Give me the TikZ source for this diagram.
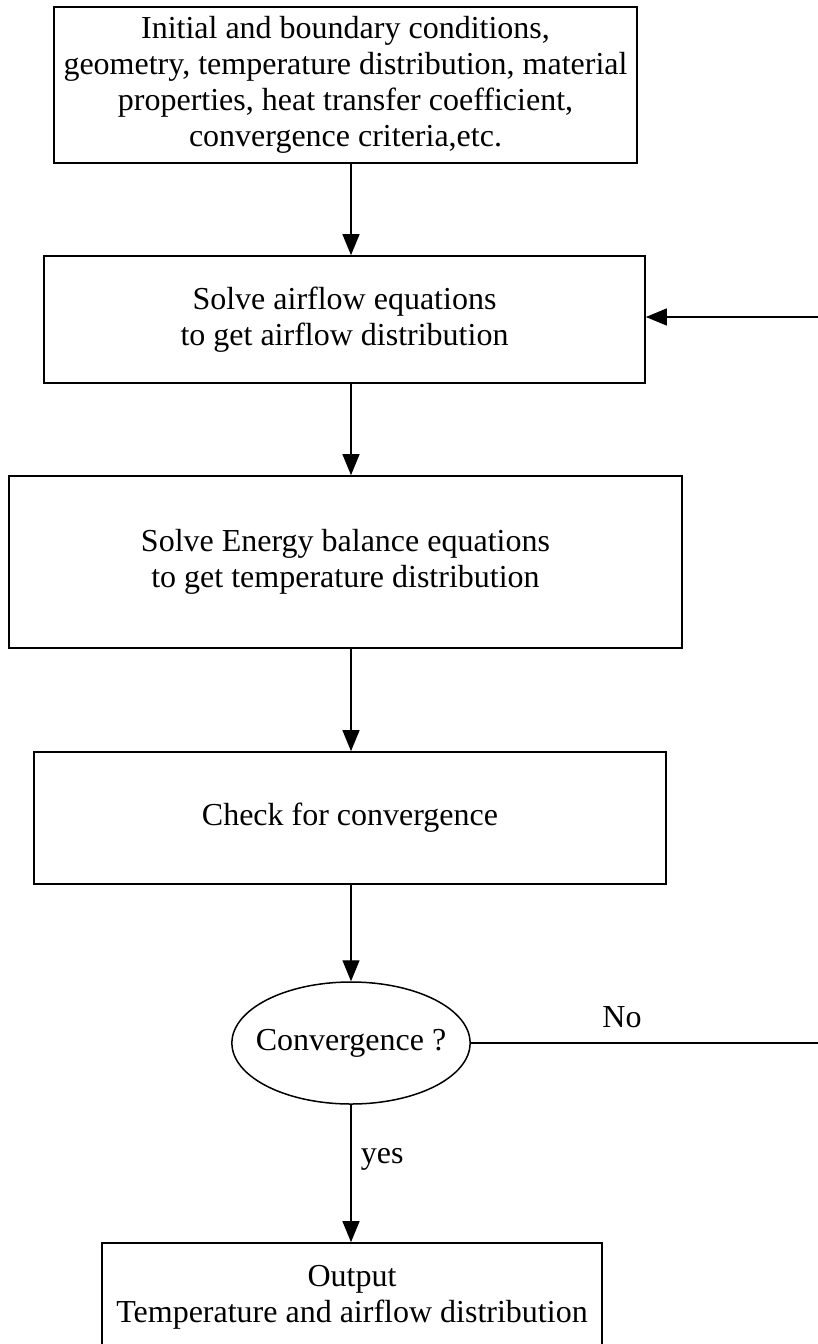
\documentclass[tikz,border=0pt]{standalone}
\usepackage{fontspec}
\setmainfont{Liberation Serif}
\usetikzlibrary{shapes.geometric,arrows.meta}
\begin{document}
\begin{tikzpicture}[x=1pt,y=-1pt,
  every node/.style={font=\fontsize{32}{36}\selectfont},
  stepbox/.style={draw,line width=1.7pt,rectangle,align=center,inner sep=0pt},
  decision/.style={draw,line width=1.5pt,ellipse,inner xsep=-11pt,inner ysep=0pt,minimum width=238pt,minimum height=122pt},
  arr/.style={line width=1.3pt,-{Triangle[length=21pt,width=17pt]}},
  plain/.style={line width=1.3pt}]
\useasboundingbox (0,0) rectangle (818,1344);
\fill[white] (0,0) rectangle (818,1344);

\node[stepbox,minimum width=583pt,minimum height=156pt] (init) at (345.5,85)
  {Initial and boundary conditions,\\geometry, temperature distribution, material\\properties, heat transfer coefficient,\\convergence criteria,etc.};
\node[stepbox,minimum width=601pt,minimum height=127pt] (air) at (344.5,319.5)
  {Solve airflow equations\\to get airflow distribution};
\node[stepbox,minimum width=673pt,minimum height=172pt] (energy) at (345.5,562)
  {Solve Energy balance equations\\to get temperature distribution};
\node[stepbox,minimum width=632pt,minimum height=132pt] (check) at (350,818)
  {Check for convergence};
\node[decision] (conv) at (351,1043) {Convergence ?};
\node[stepbox,minimum width=500pt,minimum height=109pt] (out) at (352,1297.5)
  {Output\\Temperature and airflow distribution};

\coordinate (noR) at (818,1043);
\coordinate (fbR) at (818,317);

\draw[arr] (init.south -| conv.north) -- (air.north -| conv.north);
\draw[arr] (air.south -| conv.north) -- (energy.north -| conv.north);
\draw[arr] (energy.south -| conv.north) -- (check.north -| conv.north);
\draw[arr] (check.south -| conv.north) -- (conv.north);
\draw[arr] (conv.south) -- node[right=6pt,pos=0.4] {yes} (out.north -| conv.south);
\draw[plain] (conv.east) -- (noR);
\node (nolbl) at (622,1017) {No};
\draw[arr] (fbR) -- (fbR -| air.east);
\end{tikzpicture}
\end{document}
